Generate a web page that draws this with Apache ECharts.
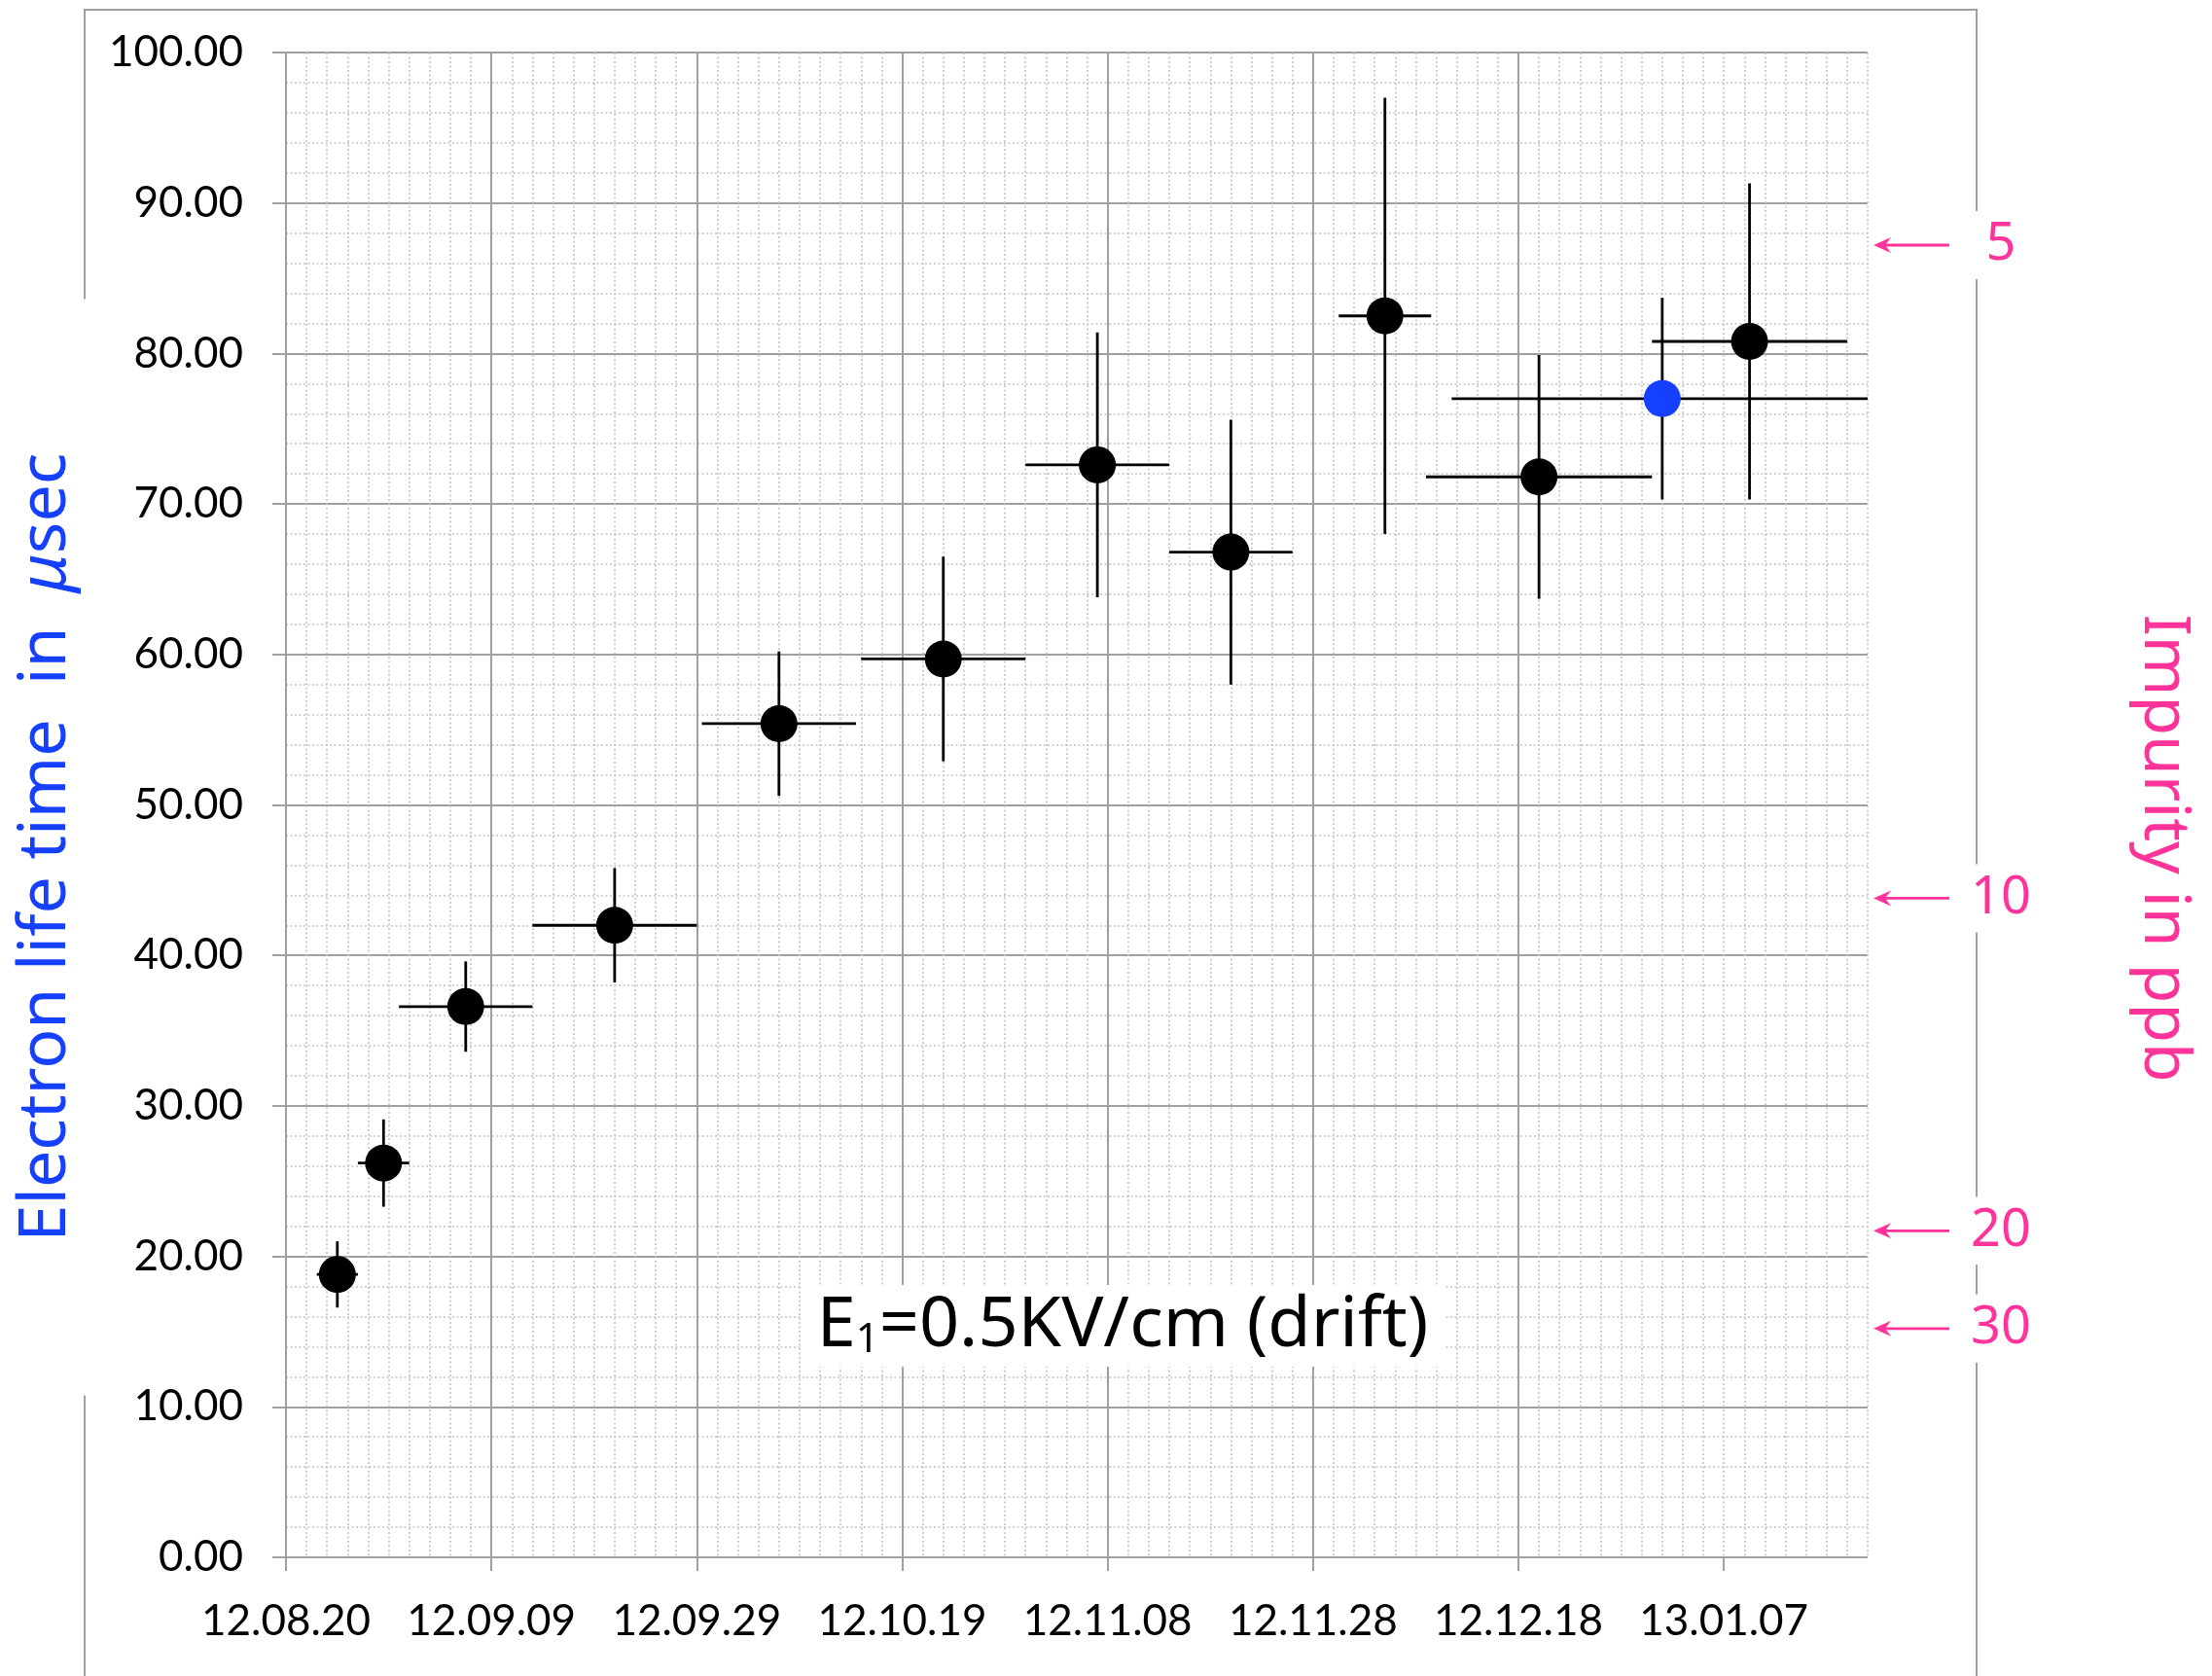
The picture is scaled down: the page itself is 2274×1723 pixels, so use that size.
<!DOCTYPE html>
<html>
<head>
<meta charset="utf-8">
<title>Electron life time</title>
<script src="https://cdn.jsdelivr.net/npm/echarts@6/dist/echarts.min.js"></script>
<style>
  html, body { margin: 0; padding: 0; background: #fff; }
  #chart { width: 2274px; height: 1723px; }
</style>
</head>
<body>
<div id="chart"></div>
<script>
// Measurement days, counted from 2012-08-20 (first date tick)
const sampleDay    = [5, 9.5, 17.5, 32, 48, 64, 79, 92, 107, 122, 134, 142.5];
const sampleDayErr = [2, 2.5, 6.5, 8, 7.5, 8, 7, 6, 4.5, 11, 20.5, 9.5];
// Electron life time (microseconds) and its uncertainty
const lifetime     = [18.8, 26.2, 36.6, 42.0, 55.4, 59.7, 72.6, 66.8, 82.5, 71.8, 77.0, 80.8];
const lifetimeErr  = [2.2, 2.9, 3.0, 3.8, 4.8, 6.8, 8.8, 8.8, 14.5, 8.1, 6.7, 10.5];
// index of the sample drawn in blue
const blueSample = 10;

// date tick labels, one every 20 days
const dateTicks = ['12.08.20', '12.09.09', '12.09.29', '12.10.19', '12.11.08', '12.11.28', '12.12.18', '13.01.07'];
const DAY_STEP = 20;
const X_MAX = 154;

// impurity levels (ppb) marked against the life time scale
const impurityPpb      = ['5', '10', '20', '30'];
const impurityLifetime = [87.2, 43.8, 21.7, 15.2];

const PINK = '#ff3399';
const BLUE = '#1540ff';
const GRID_GREY = '#a0a0a0';
const DOT_GREY = '#c4c4c4';

const chart = echarts.init(document.getElementById('chart'), null, { renderer: 'canvas' });

const errData = sampleDay.map((d, i) => [d, lifetime[i], sampleDayErr[i], lifetimeErr[i]]);
const blackPts = [], bluePts = [];
sampleDay.forEach((d, i) => (i === blueSample ? bluePts : blackPts).push([d, lifetime[i]]));
const majorDays = dateTicks.map((_, i) => i * DAY_STEP);

const option = {
  animation: false,
  backgroundColor: '#fff',
  grid: { left: 294, right: 354, top: 54, bottom: 122, containLabel: false, outerBoundsMode: 'none' },
  xAxis: [
    { // 2-day dotted grid
      type: 'value', min: 0, max: X_MAX, interval: 2, position: 'bottom',
      axisLine: { show: false }, axisTick: { show: false }, axisLabel: { show: false },
      splitLine: { show: true, lineStyle: { color: DOT_GREY, width: 1.6, type: [2, 2.5] } }
    },
    { // 20-day date ticks
      type: 'value', min: 0, max: X_MAX, interval: DAY_STEP, position: 'bottom',
      axisLine: { show: false },
      axisTick: { show: true, length: 14, customValues: majorDays, lineStyle: { color: GRID_GREY, width: 2 } },
      axisLabel: {
        customValues: majorDays, margin: 44,
        fontFamily: 'Lato', fontSize: 44, color: '#000',
        formatter: v => dateTicks[Math.round(v / DAY_STEP)] || ''
      },
      splitLine: { show: true, showMaxLine: false, lineStyle: { color: GRID_GREY, width: 2 } }
    }
  ],
  yAxis: {
    type: 'value', min: 0, max: 100, interval: 10,
    axisLine: { show: false },
    axisTick: { show: true, length: 14, lineStyle: { color: GRID_GREY, width: 2 } },
    axisLabel: { margin: 44, fontFamily: 'Lato', fontSize: 44, color: '#000', formatter: v => v.toFixed(2) },
    splitLine: { show: true, lineStyle: { color: GRID_GREY, width: 2 } },
    minorTick: { show: false, splitNumber: 5 },
    minorSplitLine: { show: true, lineStyle: { color: DOT_GREY, width: 1.6, type: [2, 2.5] } }
  },
  graphic: [
    { // outer chart frame
      type: 'rect', z: 0, silent: true,
      shape: { x: 87, y: 10, width: 1945, height: 1800 },
      style: { fill: 'none', stroke: GRID_GREY, lineWidth: 2 }
    },
    {
      type: 'text', z: 1, x: 48, y: 871, rotation: Math.PI / 2,
      style: {
        text: '{t|Electron life time  in  }{mu|μ}{t|sec}',
        align: 'center', verticalAlign: 'middle',
        backgroundColor: '#fff', padding: [12, 158],
        rich: {
          t: { font: '68px "Noto Sans"', fill: BLUE },
          mu: { font: 'italic 68px "Noto Sans"', fill: BLUE }
        }
      }
    },
    {
      type: 'text', z: 1, x: 2224, y: 872, rotation: -Math.PI / 2,
      style: {
        text: 'Impurity in ppb', font: '66px "Noto Sans"', fill: PINK,
        align: 'center', verticalAlign: 'middle'
      }
    },
    {
      type: 'text', z: 50, x: 1154, y: 1363,
      style: {
        text: '{n|E}{s|1}{n|=0.5KV/cm (drift)}',
        align: 'center', verticalAlign: 'middle',
        backgroundColor: '#fff', padding: [6, 16],
        rich: {
          n: { font: '72px "Noto Sans"', fill: '#000' },
          s: { font: '42px "Noto Sans"', fill: '#000', verticalAlign: 'bottom' }
        }
      }
    }
  ],
  series: [
    { // horizontal and vertical error bars
      type: 'custom', xAxisIndex: 1, yAxisIndex: 0, clip: true, z: 3,
      encode: { x: 0, y: 1 },
      data: errData,
      renderItem: (params, api) => {
        const x = api.value(0), y = api.value(1), ex = api.value(2), ey = api.value(3);
        const l = api.coord([x - ex, y]), r = api.coord([x + ex, y]);
        const t = api.coord([x, y + ey]), b = api.coord([x, y - ey]);
        const st = { stroke: '#000', lineWidth: 2.8 };
        return {
          type: 'group',
          children: [
            { type: 'line', shape: { x1: l[0], y1: l[1], x2: r[0], y2: r[1] }, style: st },
            { type: 'line', shape: { x1: t[0], y1: t[1], x2: b[0], y2: b[1] }, style: st }
          ]
        };
      }
    },
    {
      type: 'scatter', xAxisIndex: 1, yAxisIndex: 0, z: 4,
      symbol: 'circle', symbolSize: 38,
      itemStyle: { color: '#000', opacity: 1 },
      data: blackPts
    },
    {
      type: 'scatter', xAxisIndex: 1, yAxisIndex: 0, z: 4,
      symbol: 'circle', symbolSize: 38,
      itemStyle: { color: BLUE, opacity: 1 },
      data: bluePts
    },
    { // impurity markers on the right of the plot
      type: 'custom', xAxisIndex: 1, yAxisIndex: 0, clip: false, z: 5,
      encode: { x: 0, y: 1 },
      data: impurityLifetime.map((v, i) => [X_MAX, v, i]),
      renderItem: (params, api) => {
        const p = api.coord([api.value(0), api.value(1)]);
        const idx = api.value(2);
        const x0 = p[0] + 6, y = p[1];
        return {
          type: 'group',
          children: [
            { type: 'line', shape: { x1: x0 + 10, y1: y, x2: x0 + 78, y2: y }, style: { stroke: PINK, lineWidth: 2.8 } },
            { type: 'polygon', shape: { points: [[x0, y], [x0 + 18, y - 8], [x0 + 12, y], [x0 + 18, y + 8]] }, style: { fill: PINK } },
            {
              type: 'text', x: p[0] + 137, y: y,
              style: {
                text: impurityPpb[idx], font: '54px "Noto Sans"', fill: PINK,
                align: 'center', verticalAlign: 'middle',
                backgroundColor: '#fff', padding: [8, 12]
              }
            }
          ]
        };
      }
    }
  ]
};

chart.setOption(option);
</script>
</body>
</html>
